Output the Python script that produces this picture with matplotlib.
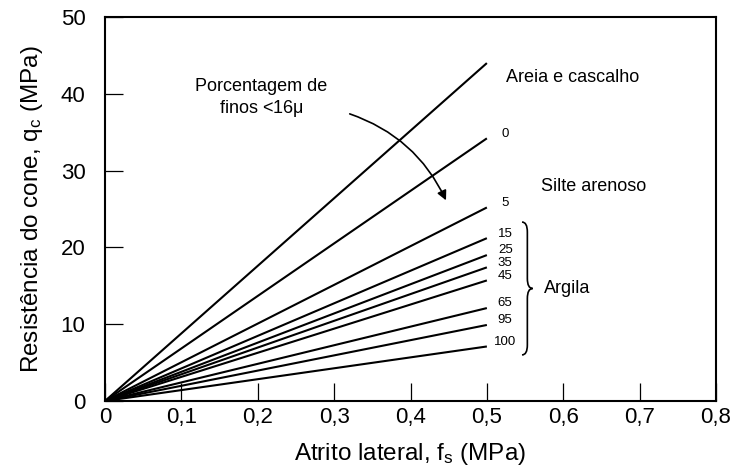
import numpy as np
import matplotlib
matplotlib.use("Agg")
import matplotlib.pyplot as plt
from matplotlib.patches import FancyArrowPatch, PathPatch
from matplotlib.path import Path

plt.rcParams["font.family"] = ["Liberation Sans", "DejaVu Sans"]
plt.rcParams["mathtext.default"] = "regular"

# Cone resistance q_c (MPa) reached at f_s = 0.5 MPa for each soil line
fs_end = 0.5
sand_gravel_qc = 44.0
fines_labels = ["0", "5", "15", "25", "35", "45", "65", "95", "100"]
fines_qc = [34.2, 25.2, 21.2, 19.0, 17.4, 15.7, 12.1, 9.9, 7.1]
clay_labels = ["15", "25", "35", "45", "65", "95", "100"]

x_ticks = [0, 0.1, 0.2, 0.3, 0.4, 0.5, 0.6, 0.7, 0.8]
x_tick_labels = ["0", "0,1", "0,2", "0,3", "0,4", "0,5", "0,6", "0,7", "0,8"]
y_ticks = [0, 10, 20, 30, 40, 50]
y_tick_labels = ["0", "10", "20", "30", "40", "50"]

fig = plt.figure(figsize=(7.3, 4.68), dpi=100)
ax = fig.add_axes([105 / 730, 67 / 468, 611 / 730, 384 / 468])

line_kw = dict(color="black", lw=1.5, solid_capstyle="butt")
ax.plot([0, fs_end], [0, sand_gravel_qc], **line_kw)
for qc in fines_qc:
    ax.plot([0, fs_end], [0, qc], **line_kw)

# Numeric labels at the end of each line
for lab, qc in zip(fines_labels, fines_qc):
    ax.text(0.524, qc + 0.6, lab, fontsize=9.5, ha="center", va="center")

ax.text(0.5256, 42.1, "Areia e cascalho", fontsize=13, ha="left", va="center")
ax.text(0.571, 27.9, "Silte arenoso", fontsize=13, ha="left", va="center")
ax.text(0.575, 14.6, "Argila", fontsize=13, ha="left", va="center")
ax.text(0.205, 39.4, "Porcentagem de\nfinos <16$\\mu$", fontsize=13,
        ha="center", va="center", multialignment="center", linespacing=1.25)

# Curved pointer across the lines
arrow = FancyArrowPatch((0.317, 37.5), (0.448, 25.8),
                        connectionstyle="arc3,rad=-0.22",
                        arrowstyle="-|>", mutation_scale=14,
                        color="black", lw=1.2)
ax.add_patch(arrow)

# Curly brace grouping the clay lines
clay_vals = [fines_qc[fines_labels.index(l)] for l in clay_labels]
ytop = max(clay_vals) + 2.1
ybot = min(clay_vals) - 1.1
ymid = (ytop + ybot) / 2
xa, xb, xc = 0.546, 0.553, 0.560
r = 1.3
verts = [(xa, ytop), (xb, ytop), (xb, ytop - r),
         (xb, ymid + r),
         (xb, ymid), (xc, ymid),
         (xb, ymid), (xb, ymid - r),
         (xb, ybot + r),
         (xb, ybot), (xa, ybot)]
codes = [Path.MOVETO, Path.CURVE3, Path.CURVE3,
         Path.LINETO,
         Path.CURVE3, Path.CURVE3,
         Path.CURVE3, Path.CURVE3,
         Path.LINETO,
         Path.CURVE3, Path.CURVE3]
ax.add_patch(PathPatch(Path(verts, codes), fill=False, lw=1.2, color="black"))

ax.set_xlim(0, 0.8)
ax.set_ylim(0, 50)
ax.set_xticks(x_ticks)
ax.set_xticklabels(x_tick_labels)
ax.set_yticks(y_ticks)
ax.set_yticklabels(y_tick_labels)
ax.tick_params(axis="both", direction="in", length=13, width=0.9,
               labelsize=16)
ax.tick_params(axis="y", pad=14)
ax.tick_params(axis="x", pad=4.5)
for s in ax.spines.values():
    s.set_linewidth(1.5)

ax.set_xlabel("Atrito lateral, f$_s$ (MPa)", fontsize=17.5, labelpad=9)
ax.set_ylabel("Resistência do cone, q$_c$ (MPa)", fontsize=17.5, labelpad=11)

fig.savefig("out.png", dpi=100, facecolor="white")
